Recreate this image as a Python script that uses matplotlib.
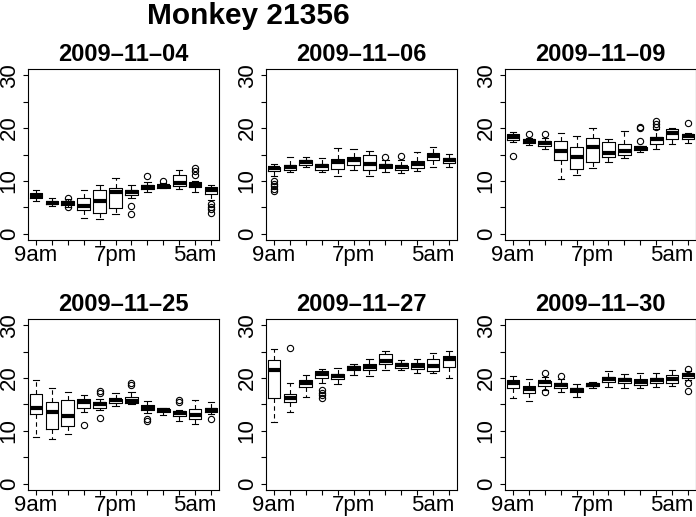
import matplotlib
matplotlib.use('Agg')
import matplotlib.pyplot as plt

plt.rcParams['font.family'] = ['Liberation Sans', 'DejaVu Sans']

# one row per day, one value per 2-hour bin (9am ... 7am)
dates = ['2009-11-04', '2009-11-06', '2009-11-09',
         '2009-11-25', '2009-11-27', '2009-11-30']
hours = list(range(1, 13))
hour_labels = ['9am', '', '', '', '', '7pm', '', '', '', '', '5am', '']

whis_lo = [
    [6.2, 5.2, 5.0, 2.9, 2.8, 3.75, 6.8, 7.9, 8.6, 8.4, 7.8, 6.4],
    [10.9, 11.6, 12.7, 11.6, 11.0, 12.0, 10.9, 11.6, 11.5, 11.8, 12.7, 12.7],
    [17.3, 16.8, 16.0, 10.3, 11.1, 12.4, 13.6, 14.3, 15.5, 16.1, 17.0, 17.1],
    [8.9, 8.4, 9.5, 13.6, 14.0, 14.8, 15.0, 13.4, 13.1, 11.8, 11.3, 13.2],
    [11.6, 13.5, 16.5, 19.0, 18.9, 20.6, 20.4, 21.6, 21.6, 20.9, 20.9, 20.1],
    [16.3, 15.7, 17.7, 17.3, 16.5, 18.1, 18.4, 18.2, 18.2, 18.4, 18.5, 19.6],
]
q1 = [
    [6.7, 5.6, 5.5, 4.4, 3.9, 4.8, 7.4, 8.4, 8.7, 9.1, 8.75, 7.6],
    [11.8, 12.0, 13.1, 12.0, 12.3, 13.1, 12.0, 12.4, 12.1, 12.5, 13.9, 13.4],
    [17.8, 17.1, 16.6, 14.0, 12.3, 13.6, 14.6, 14.9, 15.9, 17.0, 17.9, 18.0],
    [13.2, 10.4, 10.9, 14.4, 14.4, 15.3, 15.3, 13.9, 13.5, 12.8, 12.3, 13.5],
    [16.3, 15.5, 18.4, 20.0, 19.9, 21.5, 21.5, 22.7, 22.0, 21.8, 21.4, 22.2],
    [18.1, 17.1, 18.5, 18.2, 17.3, 18.5, 19.3, 19.0, 18.7, 19.1, 19.0, 20.0],
]
med = [
    [7.2, 5.9, 5.9, 5.3, 6.1, 7.8, 7.9, 8.9, 9.1, 9.6, 9.3, 8.25],
    [12.4, 12.6, 13.6, 12.9, 13.6, 13.9, 13.2, 12.9, 12.6, 13.2, 14.8, 13.9],
    [18.4, 17.5, 17.1, 15.6, 14.5, 16.5, 15.3, 15.6, 16.2, 17.9, 19.1, 18.5],
    [14.3, 13.5, 12.8, 15.5, 15.1, 15.8, 15.7, 14.4, 13.9, 13.3, 13.1, 14.0],
    [21.5, 16.2, 19.1, 20.8, 20.4, 22.0, 22.2, 23.3, 22.5, 22.3, 22.3, 23.6],
    [19.0, 17.9, 19.2, 18.7, 17.7, 18.7, 19.8, 19.6, 19.3, 19.6, 19.8, 20.6],
]
q3 = [
    [7.7, 6.2, 6.1, 6.8, 8.3, 8.7, 8.3, 9.2, 9.3, 11.2, 9.7, 8.9],
    [12.7, 13.0, 14.0, 13.2, 14.1, 14.5, 14.9, 13.2, 12.9, 13.7, 15.2, 14.3],
    [18.9, 17.9, 17.6, 17.5, 16.5, 18.1, 17.3, 16.9, 16.5, 18.3, 19.8, 18.9],
    [17.0, 15.5, 15.9, 16.0, 15.5, 16.1, 16.5, 14.9, 14.1, 13.7, 14.2, 14.4],
    [23.4, 17.0, 19.6, 21.3, 20.8, 22.3, 22.7, 24.6, 22.8, 22.8, 23.6, 24.2],
    [19.6, 18.5, 19.5, 19.1, 18.2, 19.1, 20.3, 20.0, 19.8, 20.0, 20.6, 20.9],
]
whis_hi = [
    [8.2, 6.7, 6.5, 8.3, 9.2, 10.6, 9.3, 9.8, 9.6, 12.1, 10.0, 9.3],
    [13.2, 14.6, 14.5, 14.3, 16.2, 16.0, 15.7, 13.9, 14.0, 15.5, 16.4, 15.1],
    [19.35, 18.2, 18.2, 19.0, 18.6, 20.0, 18.0, 19.5, 16.6, 19.8, 20.1, 19.1],
    [19.6, 18.1, 17.4, 16.8, 16.0, 17.2, 17.3, 15.7, 14.4, 14.0, 15.8, 15.5],
    [25.6, 19.0, 20.6, 21.7, 21.9, 22.7, 23.6, 25.2, 23.4, 23.6, 24.7, 25.2],
    [20.4, 19.8, 20.3, 19.8, 18.9, 19.3, 21.3, 20.8, 20.9, 20.9, 21.5, 21.3],
]
outliers = [
    [[], [], [6.8, 5.0], [], [], [], [5.3, 3.75], [10.9], [10.0], [],
     [12.5, 11.9, 11.1], [5.6, 5.1, 4.6, 4.0]],
    [[10.0, 9.5, 9.0, 8.5, 8.0], [], [], [], [], [], [], [14.5], [14.75],
     [], [], []],
    [[14.8], [18.8], [18.9], [], [], [], [], [], [20.3, 20.1, 17.5],
     [21.4, 20.8, 20.2], [], [21.0]],
    [[], [], [], [11.1], [17.6, 17.2, 12.4], [], [19.1, 18.6], [12.3, 11.9],
     [], [15.9, 15.4], [], [12.2]],
    [[], [25.8], [], [17.7, 17.2, 16.8, 16.3], [], [], [], [], [], [], [], []],
    [[], [], [20.9, 17.3], [20.4], [], [], [], [], [], [], [],
     [21.8, 19.0, 17.5]],
]

W, H = 696.0, 517.0
fig = plt.figure(figsize=(W / 100, H / 100), dpi=100)
lefts = [28, 266, 505]
tops = [69, 319]
aw, ah = 191, 171

for i, d in enumerate(dates):
    r, c = divmod(i, 3)
    ax = fig.add_axes([lefts[c] / W, 1 - (tops[r] + ah) / H, aw / W, ah / H])
    stats = [dict(med=med[i][j], q1=q1[i][j], q3=q3[i][j],
                  whislo=whis_lo[i][j], whishi=whis_hi[i][j],
                  fliers=outliers[i][j]) for j in range(12)]
    ax.bxp(stats, positions=hours, widths=0.8, capwidths=0.4,
           boxprops=dict(color='black', lw=0.8),
           whiskerprops=dict(color='black', lw=0.8, linestyle=(0, (4, 3))),
           capprops=dict(color='black', lw=0.8),
           medianprops=dict(color='black', lw=3, solid_capstyle='butt'),
           flierprops=dict(marker='o', markerfacecolor='none',
                           markeredgecolor='black', markersize=4.5,
                           markeredgewidth=0.8))
    ax.set_xlim(0.5, 12.5)
    ax.set_ylim(-1.2, 31.2)
    ax.set_xticks(hours)
    ax.set_xticklabels(hour_labels, fontsize=16)
    ax.set_yticks([0, 5, 10, 15, 20, 25, 30])
    ax.set_yticklabels(['0', '', '10', '', '20', '', '30'], fontsize=16,
                       rotation=90, va='center')
    ax.tick_params(axis='x', length=3.5, width=0.8, pad=0.3)
    ax.tick_params(axis='y', length=3.5, width=0.8, pad=2.5)
    for s in ax.spines.values():
        s.set_linewidth(0.8)
    ax.set_title(d.replace('-', '\u2013'), fontsize=17, fontweight='bold', pad=6)

fig.text(248 / W, 1 - 16 / H, 'Monkey 21356', fontsize=21.5, fontweight='bold',
         ha='center', va='center')

fig.savefig('out.png', dpi=100)
